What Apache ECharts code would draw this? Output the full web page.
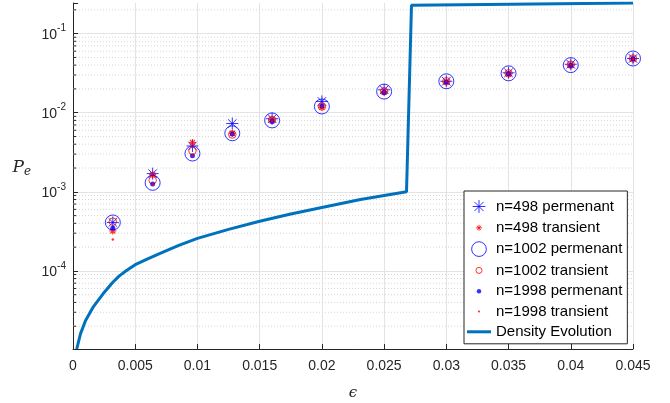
<!DOCTYPE html>
<html>
<head>
<meta charset="utf-8">
<script src="https://cdn.jsdelivr.net/npm/echarts@6.0.0/dist/echarts.min.js"></script>
<style>
  html, body { margin: 0; padding: 0; background: #fff; }
  #chart { width: 670px; height: 403px; }
</style>
</head>
<body>
<div id="chart"></div>
<script>
// epsilon values where the simulations were run
const eps = [0.0032, 0.0064, 0.0096, 0.0128, 0.016, 0.02, 0.025, 0.03, 0.035, 0.04, 0.045];

// P_e
const n498Perm = [4.1e-4, 1.7e-3, 3.8e-3, 7.3e-3, 8.4e-3, 1.39e-2, 1.95e-2, 2.5e-2, 3.2e-2, 4.1e-2, 4.85e-2];
const n498Trans = [3.2e-4, 1.65e-3, 4.2e-3, 5.5e-3, 8.2e-3, 1.18e-2, 1.85e-2, 2.45e-2, 3.1e-2, 4.0e-2, 4.8e-2];
const n1002Perm = [4.1e-4, 1.3e-3, 3.05e-3, 5.5e-3, 8.0e-3, 1.2e-2, 1.85e-2, 2.5e-2, 3.15e-2, 4.0e-2, 4.85e-2];
const n1002Trans = [4.2e-4, 1.4e-3, 3.3e-3, 5.3e-3, 8.1e-3, 1.2e-2, 1.87e-2, 2.5e-2, 3.15e-2, 4.05e-2, 4.85e-2];
const n1998Perm = [3.5e-4, 1.26e-3, 2.85e-3, 5.4e-3, 7.8e-3, 1.22e-2, 1.8e-2, 2.45e-2, 3.1e-2, 3.95e-2, 4.8e-2];
const n1998Trans = [2.5e-4, 1.25e-3, 2.9e-3, 5.4e-3, 7.9e-3, 1.2e-2, 1.82e-2, 2.48e-2, 3.12e-2, 4.0e-2, 4.8e-2];

// density evolution curve
const deEps = [0.0003, 0.0006, 0.001, 0.0016, 0.0024, 0.0032, 0.0037, 0.0043, 0.005, 0.006, 0.007, 0.0085, 0.01, 0.0125, 0.015, 0.0175, 0.02, 0.0231, 0.0268, 0.0272, 0.045];
const dePe = [1.03e-5, 1.6e-5, 2.35e-5, 3.45e-5, 5.1e-5, 7.2e-5, 8.6e-5, 1.01e-4, 1.2e-4, 1.42e-4, 1.67e-4, 2.1e-4, 2.58e-4, 3.35e-4, 4.25e-4, 5.25e-4, 6.35e-4, 8.0e-4, 1.0e-3, 0.229, 0.244];

const names = ['n=498 permenant', 'n=498 transient', 'n=1002 permenant', 'n=1002 transient',
  'n=1998 permenant', 'n=1998 transient', 'Density Evolution'];

const yMin = 1.03e-5;
const yMax = 0.244;

const BLUE = '#0000ff';
const RED = '#ff0000';
const DE_COLOR = '#0072bd';
const AXIS = '#262626';

const pair = (xs, ys) => xs.map((x, i) => [x, ys[i]]);

// marker shapes
const star = 'path://M10,0L10,20M0,10L20,10M2.9,2.9L17.1,17.1M2.9,17.1L17.1,2.9';
// legend icons are drawn in a 20x20 frame so the sizes differ like in the original
const frame = 'M0,0M20,20';
const iconStar = 'path://' + frame + 'M10,2L10,18M2,10L18,10M4.3,4.3L15.7,15.7M4.3,15.7L15.7,4.3';
const iconSmallStar = 'path://' + frame + 'M10,6.3L10,13.7M6.3,10L13.7,10M7.4,7.4L12.6,12.6M7.4,12.6L12.6,7.4';
const circlePath = (r) => 'path://' + frame + 'M' + (10 - r) + ',10A' + r + ',' + r + ' 0 1 1 ' + (10 + r) + ',10A' + r + ',' + r + ' 0 1 1 ' + (10 - r) + ',10Z';
const iconLine = 'path://M0,0L24,0L24,3L0,3Z';

// minor grid lines at 2..9 x 10^k
const minorVals = [];
for (let k = -5; k <= -1; k++) {
  for (let m = 2; m <= 9; m++) {
    const v = m * Math.pow(10, k);
    if (v > yMin && v < yMax) minorVals.push(v);
  }
}

const gridSeries = minorVals.map(v => ({
  type: 'line',
  data: [[0, v], [0.045, v]],
  symbol: 'none',
  silent: true,
  z: 1,
  lineStyle: { type: [1, 2], color: '#d6d6d6', width: 1 }
}));
const tickSeries = minorVals.map(v => ({
  type: 'line',
  data: [[0, v], [0.00025, v]],
  symbol: 'none',
  silent: true,
  z: 1,
  lineStyle: { color: AXIS, width: 1 }
}));

const scatter = (name, ys, symbol, size, style, z) => ({
  name: name,
  type: 'scatter',
  data: pair(eps, ys),
  symbol: symbol,
  symbolSize: size,
  itemStyle: style,
  z: z,
  silent: true
});

const chart = echarts.init(document.getElementById('chart'));

const option = {
  animation: false,
  backgroundColor: '#fff',
  textStyle: { fontFamily: 'Liberation Sans, Arial, sans-serif' },
  grid: { left: 73, right: 37, top: 3, bottom: 54, outerBoundsMode: 'none', containLabel: false },
  xAxis: {
    type: 'value',
    min: 0,
    max: 0.045,
    interval: 0.005,
    name: 'ϵ',
    nameLocation: 'middle',
    nameGap: 37,
    nameTextStyle: { fontFamily: 'DejaVu Serif', fontStyle: 'italic', fontSize: 15, color: AXIS },
    axisLine: { onZero: false, lineStyle: { color: AXIS, width: 1 } },
    axisTick: { inside: true, length: 5, lineStyle: { color: AXIS } },
    axisLabel: { color: AXIS, fontSize: 14, margin: 10 },
    splitLine: { show: true, lineStyle: { color: '#e3e3e3', width: 1 } }
  },
  yAxis: {
    type: 'log',
    logBase: 10,
    min: yMin,
    max: yMax,
    name: '{p|P}{e|e}',
    nameLocation: 'middle',
    nameRotate: 0,
    nameGap: 42,
    nameTextStyle: {
      padding: [0, 0, 16, 0],
      rich: {
        p: { fontFamily: 'DejaVu Serif', fontStyle: 'italic', fontSize: 17, color: AXIS },
        e: { fontFamily: 'DejaVu Serif', fontStyle: 'italic', fontSize: 12, color: AXIS, padding: [8, 0, 0, 0] }
      }
    },
    axisLine: { show: true, lineStyle: { color: AXIS, width: 1 } },
    axisTick: { inside: true, length: 5, lineStyle: { color: AXIS } },
    axisLabel: {
      margin: 7,
      formatter: function (v) {
        const e = Math.log10(v);
        const r = Math.round(e);
        if (Math.abs(e - r) > 1e-6) return '';
        return '{b|10}{s|' + r + '}';
      },
      rich: {
        b: { fontSize: 14, color: AXIS, lineHeight: 20, padding: [3, 0, 0, 0] },
        s: { fontSize: 10, color: AXIS, verticalAlign: 'top', lineHeight: 20 }
      }
    },
    splitLine: { show: true, showMinLine: false, showMaxLine: false, lineStyle: { color: '#e3e3e3', width: 1 } }
  },
  legend: {
    orient: 'vertical',
    left: 464,
    top: 191,
    padding: [7, 5, 4, 3],
    itemWidth: 24,
    itemHeight: 16,
    itemGap: 4.3,
    backgroundColor: '#fff',
    borderColor: AXIS,
    borderWidth: 1,
    borderRadius: 0,
    selectedMode: false,
    textStyle: { fontSize: 15, color: '#000', lineHeight: 16 },
    data: [
      { name: names[0], icon: iconStar, itemStyle: { color: BLUE, borderColor: BLUE, borderWidth: 1 } },
      { name: names[1], icon: iconSmallStar, itemStyle: { color: RED, borderColor: RED, borderWidth: 1 } },
      { name: names[2], icon: circlePath(9.2), itemStyle: { color: 'rgba(0,0,0,0)', borderColor: BLUE, borderWidth: 1 } },
      { name: names[3], icon: circlePath(3.8), itemStyle: { color: 'rgba(0,0,0,0)', borderColor: RED, borderWidth: 1 } },
      { name: names[4], icon: circlePath(2.8), itemStyle: { color: BLUE, borderWidth: 0 } },
      { name: names[5], icon: circlePath(1.4), itemStyle: { color: RED, borderWidth: 0 } },
      { name: names[6], icon: iconLine, itemStyle: { color: DE_COLOR, borderWidth: 0 } }
    ]
  },
  series: gridSeries.concat(tickSeries).concat([
    scatter(names[0], n498Perm, star, 12, { color: BLUE, borderColor: BLUE, borderWidth: 1 }, 3),
    scatter(names[1], n498Trans, star, 7, { color: RED, borderColor: RED, borderWidth: 1.2 }, 4),
    scatter(names[2], n1002Perm, 'circle', 15, { color: 'rgba(0,0,0,0)', borderColor: BLUE, borderWidth: 1 }, 5),
    scatter(names[3], n1002Trans, 'circle', 7.5, { color: 'rgba(0,0,0,0)', borderColor: RED, borderWidth: 1 }, 6),
    scatter(names[4], n1998Perm, 'circle', 5, { color: BLUE, borderWidth: 0 }, 7),
    scatter(names[5], n1998Trans, 'circle', 2.5, { color: RED, borderWidth: 0 }, 8),
    {
      name: names[6],
      type: 'line',
      data: pair(deEps, dePe),
      symbol: 'none',
      showSymbol: false,
      clip: true,
      color: DE_COLOR,
      lineStyle: { color: DE_COLOR, width: 3 },
      z: 9,
      silent: true
    }
  ])
};

chart.setOption(option);
</script>
</body>
</html>
